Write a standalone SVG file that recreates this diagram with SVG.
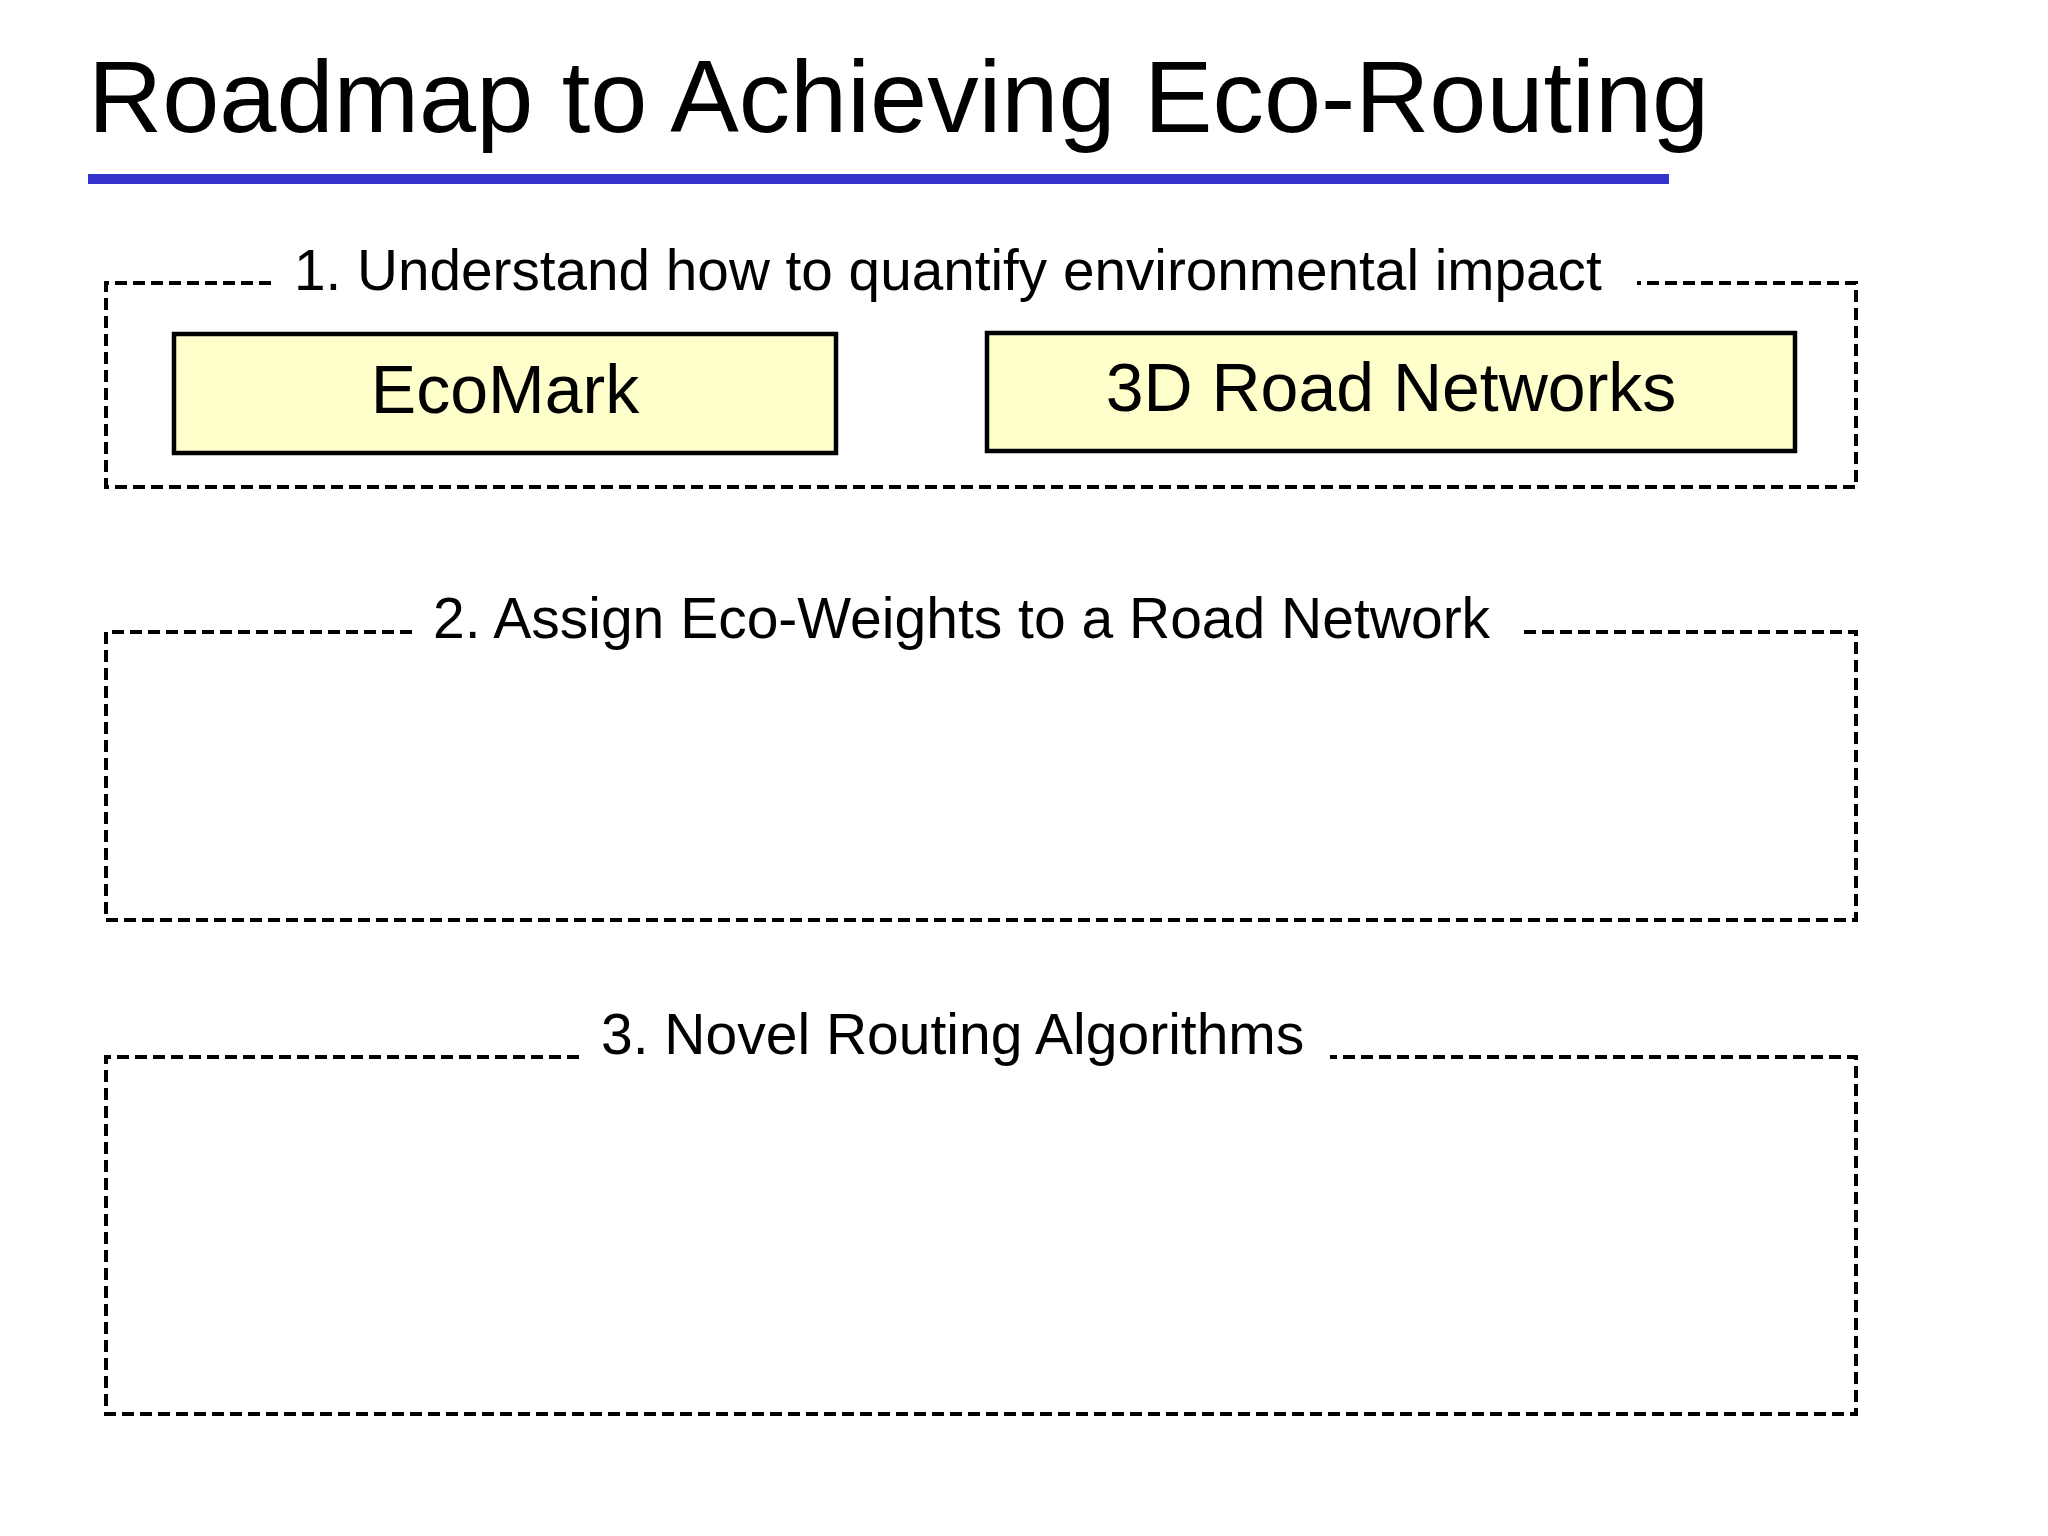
<svg xmlns="http://www.w3.org/2000/svg" width="2048" height="1536" viewBox="0 0 2048 1536">
  <style>
    text { font-family: "Liberation Sans", Arial, sans-serif; fill: #000; }
    .title { font-size: 102.7px; }
    .glabel { font-size: 57px; }
    .ntext { font-size: 68px; text-anchor: middle; }
    .group { fill: none; stroke: #000; stroke-width: 4; stroke-dasharray: 12 6; }
    .node { fill: #FFFFCC; stroke: #000; stroke-width: 4.5; }
  </style>
  <rect x="0" y="0" width="2048" height="1536" fill="#fff"/>
  <g id="title">
    <text class="title" x="88" y="132">Roadmap to Achieving Eco-Routing</text>
    <rect x="88" y="174" width="1581" height="10" fill="#3333CC"/>
  </g>
  <g id="group1">
    <path class="group" d="M271 283 H106 V487 H1856 V283 H1637"/>
    <text class="glabel" x="294" y="290" style="font-size:56.7px">1. Understand how to quantify environmental impact</text>
  </g>
  <g id="group2">
    <path class="group" d="M412 632 H106 V920 H1856 V632 H1519"/>
    <text class="glabel" x="433" y="638">2. Assign Eco-Weights to a Road Network</text>
  </g>
  <g id="group3">
    <path class="group" d="M579 1057 H106 V1414 H1856 V1057 H1330"/>
    <text class="glabel" x="601" y="1054">3. Novel Routing Algorithms</text>
  </g>
  <g id="ecomark">
    <rect class="node" x="174" y="334" width="662" height="119"/>
    <text class="ntext" x="505" y="413">EcoMark</text>
  </g>
  <g id="road3d">
    <rect class="node" x="987" y="333" width="808" height="118"/>
    <text class="ntext" x="1391" y="411">3D Road Networks</text>
  </g>
  <g id="connectors"></g>
</svg>
